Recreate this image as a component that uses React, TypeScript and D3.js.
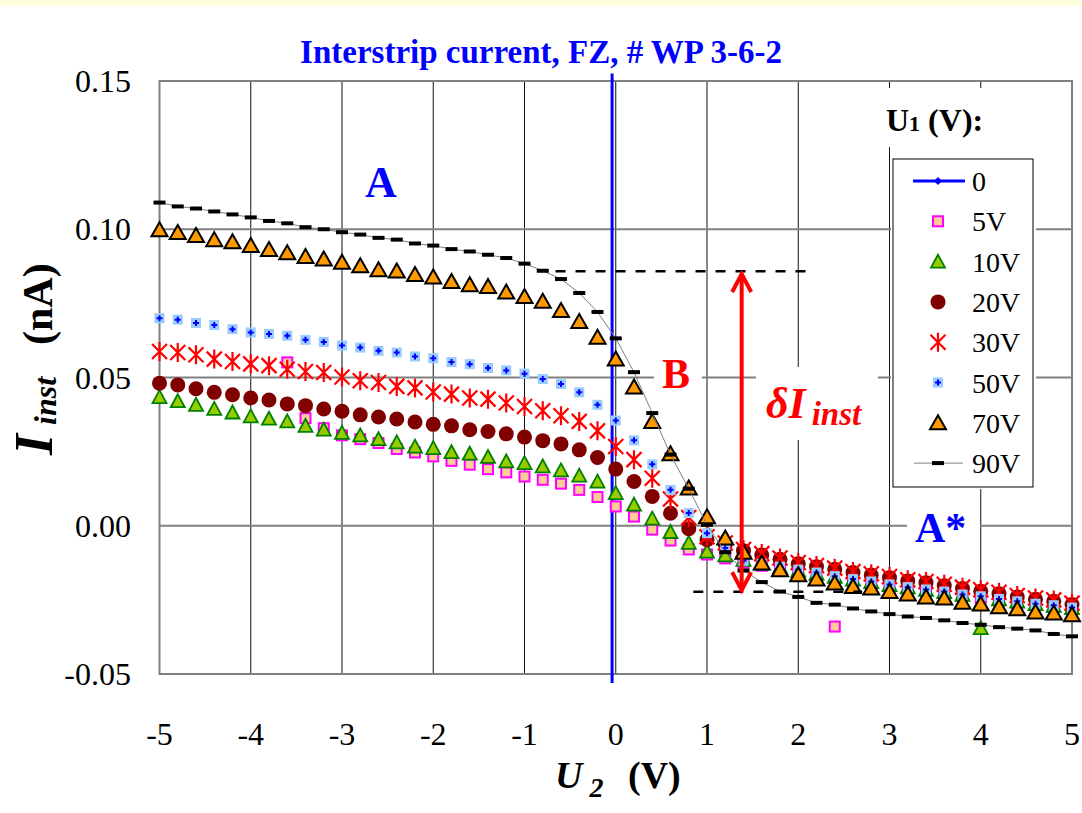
import * as d3 from "d3"

// U2 sweep (V)
const U2 = [
  -5, -4.8, -4.6, -4.4, -4.2, -4, -3.8, -3.6, -3.4, -3.2, -3, -2.8, -2.6, -2.4, -2.2, -2, -1.8, -1.6, -1.4, -1.2,
  -1, -0.8, -0.6, -0.4, -0.2, 0, 0.2, 0.4, 0.6, 0.8, 1, 1.2, 1.4, 1.6, 1.8, 2, 2.2, 2.4, 2.6, 2.8, 3, 3.2, 3.4,
  3.6, 3.8, 4, 4.2, 4.4, 4.6, 4.8, 5,
]

// interstrip current (nA) for each U1
const I_5V = [
  null, null, null, null, null, null, null, 0.0551, 0.0363, 0.0329, 0.0305, 0.0292, 0.0279, 0.0259, 0.0247, 0.0234,
  0.0219, 0.0206, 0.0191, 0.018, 0.0166, 0.0155, 0.0142, 0.0121, 0.0097, 0.0065, 0.0031, -0.0013, -0.0050, -0.0080,
  -0.0097, -0.011, -0.0125, -0.0135, -0.0147, -0.0158, -0.017, -0.034, -0.0188, -0.0195, -0.0205, -0.0213, -0.022,
  -0.0228, -0.0237, -0.0243, -0.0252, -0.026, -0.0268, -0.0274, -0.0282,
]
const I_10V = [
  0.0434, 0.042, 0.0408, 0.0394, 0.0382, 0.0369, 0.0361, 0.0352, 0.0337, 0.0324, 0.0313, 0.0305, 0.0292, 0.0281,
  0.0267, 0.0262, 0.0248, 0.0243, 0.0232, 0.0217, 0.0211, 0.02, 0.0187, 0.0169, 0.0149, 0.011, 0.0071, 0.0024,
  -0.0021, -0.0058, -0.0087, -0.0100, -0.0115, -0.0128, -0.014, -0.0152, -0.0162, -0.0172, -0.0182, -0.019, -0.02,
  -0.0208, -0.0216, -0.0224, -0.0233, -0.0345, -0.0248, -0.0256, -0.0264, -0.027, -0.0278,
]
const I_20V = [
  0.0481, 0.0475, 0.0462, 0.045, 0.0442, 0.0431, 0.0424, 0.0411, 0.0405, 0.0394, 0.0386, 0.0374, 0.0367, 0.036,
  0.035, 0.0342, 0.0337, 0.0324, 0.0318, 0.031, 0.0299, 0.0287, 0.0276, 0.0256, 0.023, 0.0191, 0.0149, 0.0099, 0.0042,
  -0.0010, -0.0047, -0.0063, -0.0084, -0.0099, -0.0113, -0.0128, -0.0138, -0.0147, -0.0158, -0.0166, -0.0175,
  -0.0186, -0.0192, -0.0202, -0.0212, -0.0221, -0.0229, -0.024, -0.0248, -0.0255, -0.0266,
]
const I_30V = [
  0.0588, 0.0584, 0.0577, 0.0562, 0.0554, 0.0546, 0.054, 0.0528, 0.052, 0.0517, 0.0502, 0.0489, 0.0483, 0.047,
  0.0465, 0.0451, 0.0444, 0.0431, 0.0427, 0.0414, 0.0402, 0.0388, 0.0371, 0.0352, 0.032, 0.0267, 0.0223, 0.016,
  0.009, 0.0028, -0.0037, -0.0058, -0.0080, -0.0094, -0.0109, -0.0124, -0.0134, -0.0143, -0.0154, -0.0162, -0.0171,
  -0.0182, -0.0188, -0.0197, -0.0207, -0.0216, -0.0224, -0.0235, -0.0244, -0.025, -0.0261,
]
const I_50V = [
  0.07, 0.0695, 0.0684, 0.0677, 0.0663, 0.0652, 0.0647, 0.0641, 0.0627, 0.062, 0.0608, 0.0601, 0.059, 0.0584, 0.0571,
  0.0565, 0.0552, 0.0545, 0.0532, 0.0524, 0.0513, 0.0495, 0.0478, 0.045, 0.0408, 0.0355, 0.0288, 0.0207, 0.0121,
  0.0043, -0.0025, -0.0075, -0.0118, -0.0128, -0.0138, -0.0148, -0.0158, -0.017, -0.018, -0.0188, -0.0198, -0.0207,
  -0.0215, -0.0222, -0.0232, -0.0238, -0.0247, -0.0255, -0.0263, -0.0268, -0.0276,
]
const I_70V = [
  0.0998, 0.0989, 0.0979, 0.0965, 0.0958, 0.0945, 0.0932, 0.0921, 0.0908, 0.09, 0.0889, 0.0877, 0.0863, 0.0859,
  0.0847, 0.0839, 0.0824, 0.0813, 0.0807, 0.0788, 0.0773, 0.0757, 0.0726, 0.0689, 0.0636, 0.0562, 0.0468, 0.0352,
  0.0243, 0.0127, 0.003, -0.0041, -0.0089, -0.0126, -0.0148, -0.0165, -0.018, -0.0193, -0.0205, -0.021, -0.0222,
  -0.023, -0.024, -0.0244, -0.0258, -0.0264, -0.0273, -0.028, -0.0291, -0.0294, -0.03,
]
const I_90V = [
  0.109, 0.1077, 0.107, 0.106, 0.105, 0.104, 0.1028, 0.102, 0.1007, 0.1, 0.099, 0.0982, 0.0971, 0.0965, 0.0952,
  0.0945, 0.0933, 0.0925, 0.0914, 0.0903, 0.0884, 0.086, 0.0832, 0.0785, 0.0721, 0.0632, 0.0518, 0.038, 0.024, 0.0125,
  0.0003, -0.0089, -0.0151, -0.019, -0.0222, -0.024, -0.026, -0.0266, -0.0279, -0.0289, -0.0298, -0.0306, -0.0311,
  -0.0319, -0.0328, -0.0334, -0.0342, -0.0347, -0.0353, -0.0365, -0.0373,
]
// U1 = 0 trace: vertical line just left of U2 = 0
const ZERO_U = [-0.04, -0.04]
const ZERO_I = [0.1525, -0.053]

const LEGEND_LABELS = ["0", "5V", "10V", "20V", "30V", "50V", "70V", "90V"]
const X_TICKS = [-5, -4, -3, -2, -1, 0, 1, 2, 3, 4, 5]
const Y_TICKS = [-0.05, 0, 0.05, 0.1, 0.15]

// annotation lines (U2, I)
const DASH_TOP = { u: [-0.66, 2.15], i: 0.0858 }
const DASH_BOTTOM = { u: [0.85, 2.7], i: -0.0223 }
const ARROW = { u: 1.38, i: [0.0849, -0.0217] }

const FONT = "'Liberation Serif', 'Times New Roman', serif"

type MarkerKind = "zero" | "square" | "triGreen" | "circle" | "star" | "plus" | "triOrange" | "dash"

const Marker = ({ kind, cx, cy }: { kind: MarkerKind; cx: number; cy: number }) => {
  switch (kind) {
    case "zero":
      return <path d={`M${cx},${cy - 4}L${cx + 4},${cy}L${cx},${cy + 4}L${cx - 4},${cy}Z`} fill="#0000ff" />
    case "square":
      return <rect x={cx - 5} y={cy - 5} width={10} height={10} fill="#ffcc99" stroke="#ff00ff" strokeWidth={2} />
    case "triGreen":
      return (
        <path
          d={`M${cx},${cy - 7}L${cx + 7},${cy + 6}L${cx - 7},${cy + 6}Z`}
          fill="#99cc00"
          stroke="#008000"
          strokeWidth={1.8}
        />
      )
    case "circle":
      return <circle cx={cx} cy={cy} r={7.5} fill="#800000" />
    case "star":
      return (
        <path
          d={`M${cx - 7.5},${cy - 7.5}L${cx + 7.5},${cy + 7.5}M${cx + 7.5},${cy - 7.5}L${cx - 7.5},${cy + 7.5}M${cx},${cy - 9.5}L${cx},${cy + 9.5}`}
          stroke="#ff0000"
          strokeWidth={2.2}
        />
      )
    case "plus":
      return (
        <g>
          <rect x={cx - 5} y={cy - 5} width={10} height={10} fill="#99ccff" />
          <path d={`M${cx - 3},${cy}L${cx + 3},${cy}M${cx},${cy - 3}L${cx},${cy + 3}`} stroke="#0000ff" strokeWidth={2} />
        </g>
      )
    case "triOrange":
      return (
        <path
          d={`M${cx},${cy - 7.5}L${cx + 8},${cy + 6.5}L${cx - 8},${cy + 6.5}Z`}
          fill="#ff9900"
          stroke="#000"
          strokeWidth={2}
          strokeLinejoin="miter"
        />
      )
    case "dash":
      return <rect x={cx - 6} y={cy - 2} width={12} height={4} fill="#000" />
  }
}

const App = () => {
  const x = d3.scaleLinear().domain([-5, 5]).range([159.5, 1072])
  const y = d3.scaleLinear().domain([-0.05, 0.15]).range([674, 81])

  const series: { kind: MarkerKind; values: (number | null)[] }[] = [
    { kind: "square", values: I_5V },
    { kind: "triGreen", values: I_10V },
    { kind: "circle", values: I_20V },
    { kind: "star", values: I_30V },
    { kind: "plus", values: I_50V },
    { kind: "triOrange", values: I_70V },
  ]
  const legendKinds: MarkerKind[] = ["zero", "square", "triGreen", "circle", "star", "plus", "triOrange", "dash"]

  const line = d3
    .line<[number, number]>()
    .x((d) => x(d[0]))
    .y((d) => y(d[1]))
  const line90 = line(U2.map((u, i) => [u, I_90V[i]] as [number, number]))
  const line0 = line(ZERO_U.map((u, i) => [u, ZERO_I[i]] as [number, number]))

  const [x0, x1] = x.range()
  const [yb, yt] = y.range()
  const ax = x(ARROW.u)
  const ay1 = y(ARROW.i[0])
  const ay2 = y(ARROW.i[1])

  return (
    <svg width={1082} height={813} style={{ position: "absolute", left: 0, top: 0, background: "#fff" }} fontFamily={FONT}>
      <rect x={0} y={0} width={1082} height={6} fill="#ffffdc" />

      {/* title */}
      <text x={541} y={63} textAnchor="middle" fontSize={33} fontWeight="bold" fill="#0000ff">
        Interstrip current, FZ, # WP 3-6-2
      </text>

      {/* grid */}
      {X_TICKS.slice(1, -1).map((t) => (
        <line key={"vx" + t} x1={x(t)} x2={x(t)} y1={yt} y2={yb} stroke="#111" strokeWidth={1} />
      ))}
      {Y_TICKS.slice(1, -1).map((t) => (
        <line key={"hy" + t} x1={x0} x2={x1} y1={y(t)} y2={y(t)} stroke="#808080" strokeWidth={2} />
      ))}
      <rect x={x0} y={yt} width={x1 - x0} height={yb - yt} fill="none" stroke="#808080" strokeWidth={2} />

      {/* white boxes behind labels */}
      <rect x={872} y={88} width={128} height={59} fill="#fff" />
      <rect x={891} y={147} width={145} height={342} fill="#fff" />
      <rect x={654} y={352} width={48} height={48} fill="#fff" />
      <rect x={756} y={367} width={122} height={73} fill="#fff" />
      <rect x={907} y={505} width={73} height={44} fill="#fff" />

      {/* tick labels */}
      {Y_TICKS.map((t) => (
        <text key={"yl" + t} x={131} y={y(t)} dy="0.35em" textAnchor="end" fontSize={32}>
          {t.toFixed(2)}
        </text>
      ))}
      {X_TICKS.map((t) => (
        <text key={"xl" + t} x={x(t)} y={745} textAnchor="middle" fontSize={32}>
          {t}
        </text>
      ))}

      {/* axis titles */}
      <text x={555} y={788} fontSize={38} fontWeight="bold">
        <tspan fontStyle="italic">U</tspan>
        <tspan fontStyle="italic" fontSize={28} dy={9}>
          {" 2"}
        </tspan>
        <tspan x={628} dy={-9}>
          (V)
        </tspan>
      </text>
      <text transform="translate(52,455) rotate(-90)" fontWeight="bold">
        <tspan x={0} fontStyle="italic" fontSize={54}>
          I
        </tspan>
        <tspan x={30} fontStyle="italic" fontSize={32} dy={4}>
          inst
        </tspan>
        <tspan x={110} fontSize={42} dy={-4}>
          (nA)
        </tspan>
      </text>

      {/* U1 = 0 */}
      <path d={line0 ?? ""} fill="none" stroke="#0000ff" strokeWidth={3} />

      {/* marker series */}
      {series.map((s, si) => (
        <g key={"s" + si}>
          {U2.map((u, i) =>
            s.values[i] == null ? null : <Marker key={i} kind={s.kind} cx={x(u)} cy={y(s.values[i] as number)} />,
          )}
        </g>
      ))}

      {/* 90V */}
      <path d={line90 ?? ""} fill="none" stroke="#808080" strokeWidth={1} />
      {U2.map((u, i) => (
        <Marker key={"d" + i} kind="dash" cx={x(u)} cy={y(I_90V[i])} />
      ))}

      {/* annotations */}
      <line
        x1={x(DASH_TOP.u[0])}
        x2={x(DASH_TOP.u[1])}
        y1={y(DASH_TOP.i)}
        y2={y(DASH_TOP.i)}
        stroke="#000"
        strokeWidth={2.5}
        strokeDasharray="10 10"
      />
      <line
        x1={x(DASH_BOTTOM.u[0])}
        x2={x(DASH_BOTTOM.u[1])}
        y1={y(DASH_BOTTOM.i)}
        y2={y(DASH_BOTTOM.i)}
        stroke="#000"
        strokeWidth={2.5}
        strokeDasharray="10 10"
      />
      <g stroke="#ff0000" strokeWidth={4} fill="none">
        <line x1={ax} x2={ax} y1={ay1 + 1} y2={ay2 - 1} />
        <path d={`M${ax - 9.5},${ay1 + 18}L${ax},${ay1}L${ax + 9.5},${ay1 + 18}`} />
        <path d={`M${ax - 9.5},${ay2 - 18}L${ax},${ay2}L${ax + 9.5},${ay2 - 18}`} />
      </g>

      <text x={381} y={197} textAnchor="middle" fontSize={44} fontWeight="bold" fill="#0000ff">
        A
      </text>
      <text x={662} y={388} fontSize={42} fontWeight="bold" fill="#ff0000">
        B
      </text>
      <text x={915} y={542} fontSize={42} fontWeight="bold" fill="#0000ff">
        A*
      </text>
      <text x={766} y={418} fontWeight="bold" fontStyle="italic" fill="#ff0000">
        <tspan fontSize={44}>δI</tspan>
        <tspan fontSize={33} dx={6} dy={7}>
          inst
        </tspan>
      </text>

      {/* legend */}
      <text x={886} y={131} fontSize={32} fontWeight="bold">
        U<tspan fontSize={22}>1</tspan> (V):
      </text>
      <rect x={893} y={159} width={140} height={328} fill="#fff" stroke="#000" strokeWidth={1} />
      {LEGEND_LABELS.map((lab, i) => {
        const cy = 181 + i * 40.3
        const k = legendKinds[i]
        return (
          <g key={"lg" + lab}>
            {k === "zero" && <line x1={913} x2={965} y1={cy} y2={cy} stroke="#0000ff" strokeWidth={3} />}
            {k === "dash" && <line x1={914} x2={963} y1={cy} y2={cy} stroke="#808080" strokeWidth={1} />}
            <Marker kind={k} cx={938} cy={cy} />
            <text x={972} y={cy + 10} fontSize={28}>
              {lab}
            </text>
          </g>
        )
      })}
    </svg>
  )
}

export default App
